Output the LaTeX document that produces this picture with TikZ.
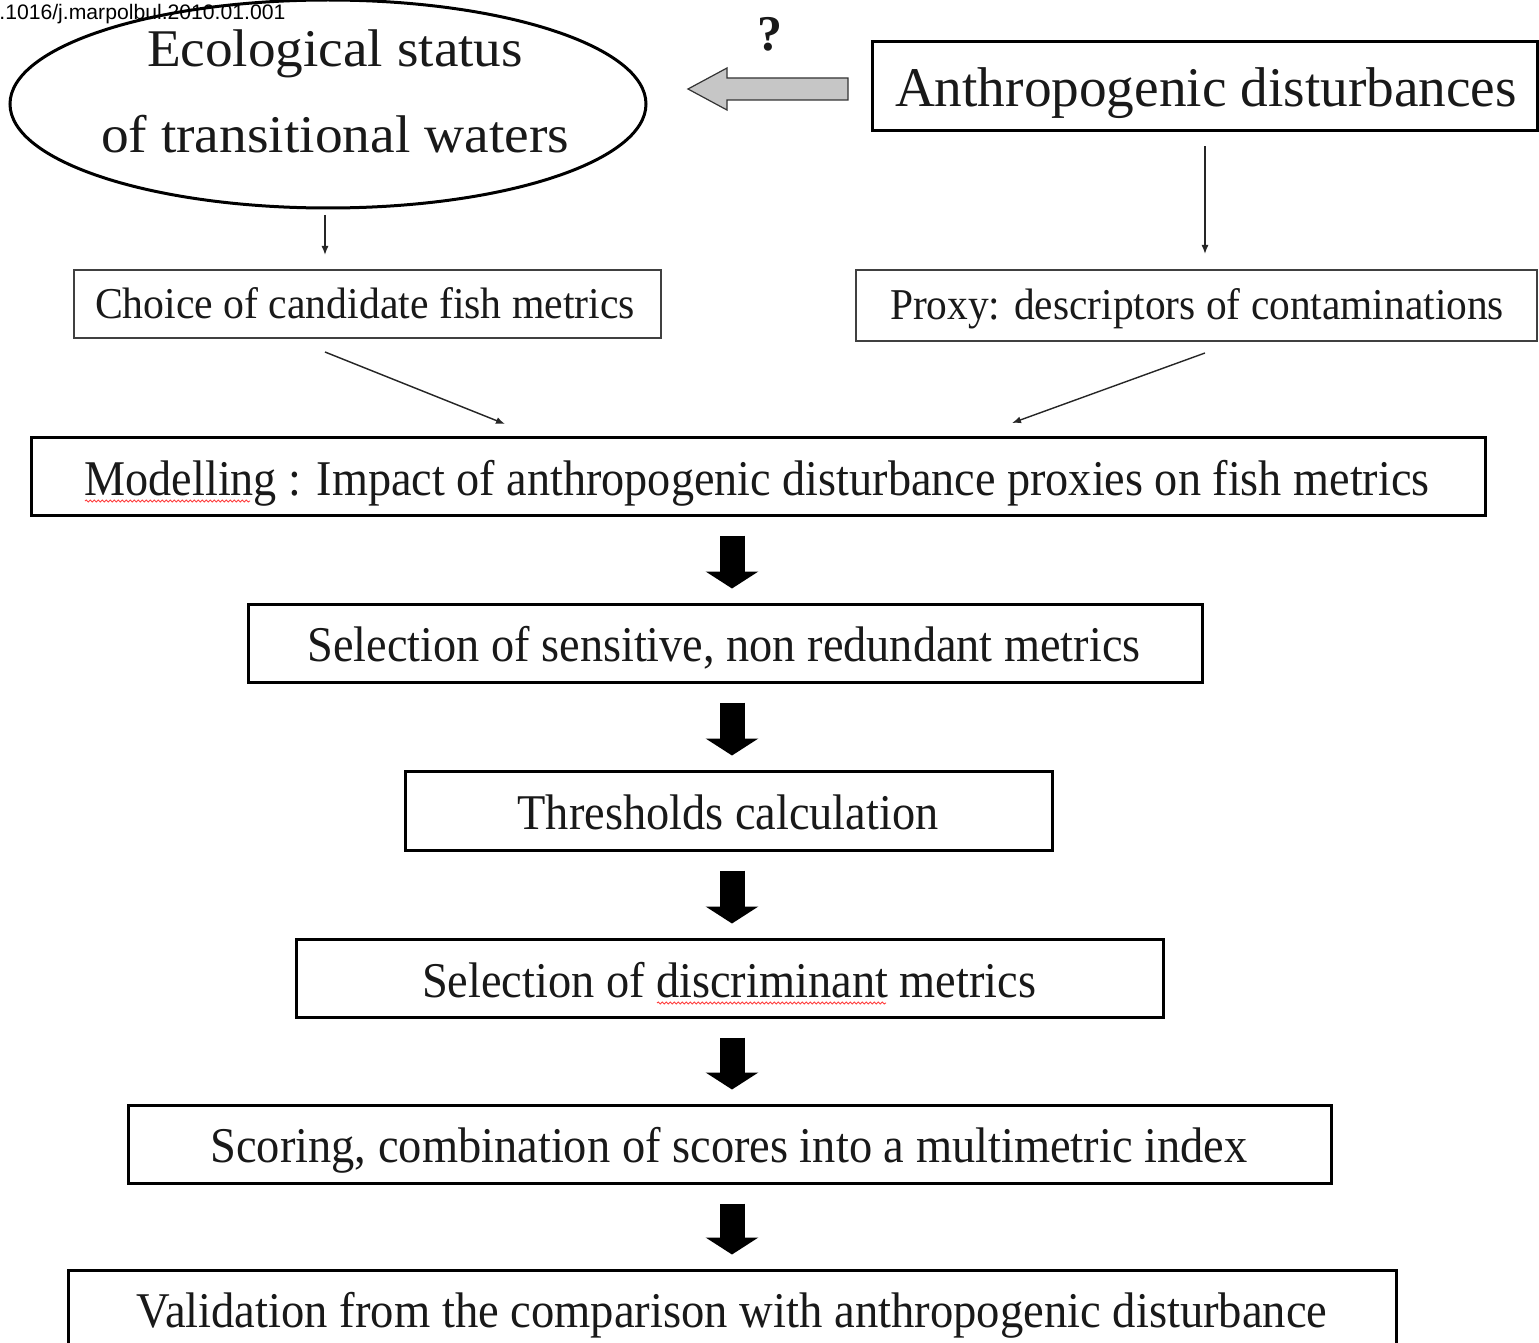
\documentclass[tikz,border=0pt]{standalone}
\usepackage{fontspec}
\setmainfont{Liberation Serif}
\newfontfamily\doifont{Liberation Sans}
\usetikzlibrary{shapes.geometric,arrows.meta,decorations.pathmorphing}
\newsavebox\tbox
\newcommand\fitw[2]{\sbox\tbox{#2}\pgfmathsetmacro\fitr{(#1)/\the\wd\tbox}\scalebox{\fitr}[1]{\usebox\tbox}}
\newcommand\fsz[1]{\fontsize{#1pt}{#1pt}\selectfont}
\tikzset{
  thickbox/.style={draw=black, line width=1.5pt, inner sep=0pt, fill=white},
  thinbox/.style={draw=black!75, line width=1pt, inner sep=0pt, fill=white},
  txt/.style={inner sep=0pt, text=black!90, anchor=base},
  tarrow/.style={draw=black!85, line width=0.7pt, -{Latex[length=4.5pt,width=3.5pt]}},
  bigarrow/.style={draw=black, line width=12.5pt, -{Triangle[length=8.5pt,width=26pt]}, shorten <=9.5pt, shorten >=7pt},
  wavy/.style={draw=red!75, line width=0.45pt, decorate, decoration={snake, amplitude=0.5pt, segment length=2pt}}
}
\begin{document}
\begin{tikzpicture}[x=0.5pt,y=-0.5pt]
\useasboundingbox (0,0) rectangle (1539,1343);
\clip (0,0) rectangle (1539,1343);
\fill[white] (0,0) rectangle (1539,1343);

% ellipse
\node[ellipse, draw=black, line width=1.5pt, minimum width=318pt, minimum height=104pt, inner sep=0pt] (ell) at (328,104) {};
\node[txt] (ell1) at (335,67) {\fsz{26.5}\fitw{188}{Ecological status}};
\node[txt] (ell2) at (335,153) {\fsz{26.5}\fitw{234}{of transitional waters}};

% doi
\node[txt, anchor=base west, text=black] (doi) at (-1,20) {\doifont\fsz{10.5}\fitw{143}{.1016/j.marpolbul.2010.01.001}};

% anthropogenic box
\node[thickbox, minimum width=332.5pt, minimum height=44.5pt] (anth) at (1204.5,86.5) {};
\node[txt] (anthT) at (1206,107) {\fsz{28}\fitw{311}{Anthropogenic disturbances}};

% question mark
\node[txt] (q) at (770,51) {\fsz{25}\bfseries ?};

% gray hollow arrow
\coordinate (gt) at (848,89);
\coordinate (gh) at (688,89);
\fill[gray!45, draw=black!80, line width=0.6pt]
  ([yshift=5.5pt]gt) -- ([xshift=19.5pt,yshift=5.5pt]gh) -- ([xshift=19.5pt,yshift=10.5pt]gh) -- (gh)
  -- ([xshift=19.5pt,yshift=-10.5pt]gh) -- ([xshift=19.5pt,yshift=-5.5pt]gh) -- ([yshift=-5.5pt]gt) -- cycle;

% second row
\node[thinbox, minimum width=293.5pt, minimum height=34pt] (choice) at (367.5,304) {};
\node[txt] (choiceT) at (365,318) {\fsz{22}\fitw{270}{Choice of candidate fish metrics}};
\node[thinbox, minimum width=340.5pt, minimum height=35.5pt] (proxy) at (1196.5,305.5) {};
\node[txt] (proxyT) at (1197,320) {\fsz{22}\fitw{307}{Proxy: descriptors of contaminations}};

% thin arrows
\draw[tarrow, shorten <=3.5pt, shorten >=7.5pt] (325,208) coordinate (e1) -- (325,270) coordinate (e2);
\draw[tarrow, shorten <=7pt, shorten >=7.5pt] (anth.south -| 1205,0) -- (proxy.north -| 1205,0);

% main chain
\node[thickbox, minimum width=727pt, minimum height=39pt] (model) at (758,476) {};
\node[txt] (modelT) at (757,495) {\fsz{25}\fitw{672.5}{Modelling : Impact of anthropogenic disturbance proxies on fish metrics}};
\draw[wavy] (85,501) -- (250,501);

\coordinate (d1) at (325,352);
\coordinate (d2) at (505,424);
\coordinate (d3) at (1205,353);
\coordinate (d4) at (1012,423);
\draw[tarrow] (d1) -- (d2);
\draw[tarrow] (d3) -- (d4);

\node[thickbox, minimum width=477pt, minimum height=39pt] (sens) at (725,643) {};
\node[txt] (sensT) at (724,661) {\fsz{25}\fitw{416.5}{Selection of sensitive, non redundant metrics}};

\node[thickbox, minimum width=323.5pt, minimum height=39.5pt] (thr) at (728.5,810.5) {};
\node[txt] (thrT) at (728,829) {\fsz{25}\fitw{210.5}{Thresholds calculation}};

\node[thickbox, minimum width=433.5pt, minimum height=39pt] (disc) at (729.5,978) {};
\node[txt] (discT) at (729,997) {\fsz{25}\fitw{307}{Selection of discriminant metrics}};
\draw[wavy] (657,1003) -- (886,1003);

\node[thickbox, minimum width=601.5pt, minimum height=39pt] (score) at (729.5,1144) {};
\node[txt] (scoreT) at (729,1162) {\fsz{25}\fitw{518.5}{Scoring, combination of scores into a multimetric index}};

\node[thickbox, minimum width=664pt, minimum height=45pt] (valid) at (732,1315) {};
\node[txt] (validT) at (732,1327) {\fsz{25}\fitw{595.5}{Validation from the comparison with anthropogenic disturbance}};

\coordinate (ax) at (732,0);
\draw[bigarrow] (model.south -| ax) -- (sens.north -| ax);
\draw[bigarrow] (sens.south -| ax) -- (thr.north -| ax);
\draw[bigarrow] (thr.south -| ax) -- (disc.north -| ax);
\draw[bigarrow] (disc.south -| ax) -- (score.north -| ax);
\draw[bigarrow] (score.south -| ax) -- (valid.north -| ax);
\end{tikzpicture}
\end{document}
